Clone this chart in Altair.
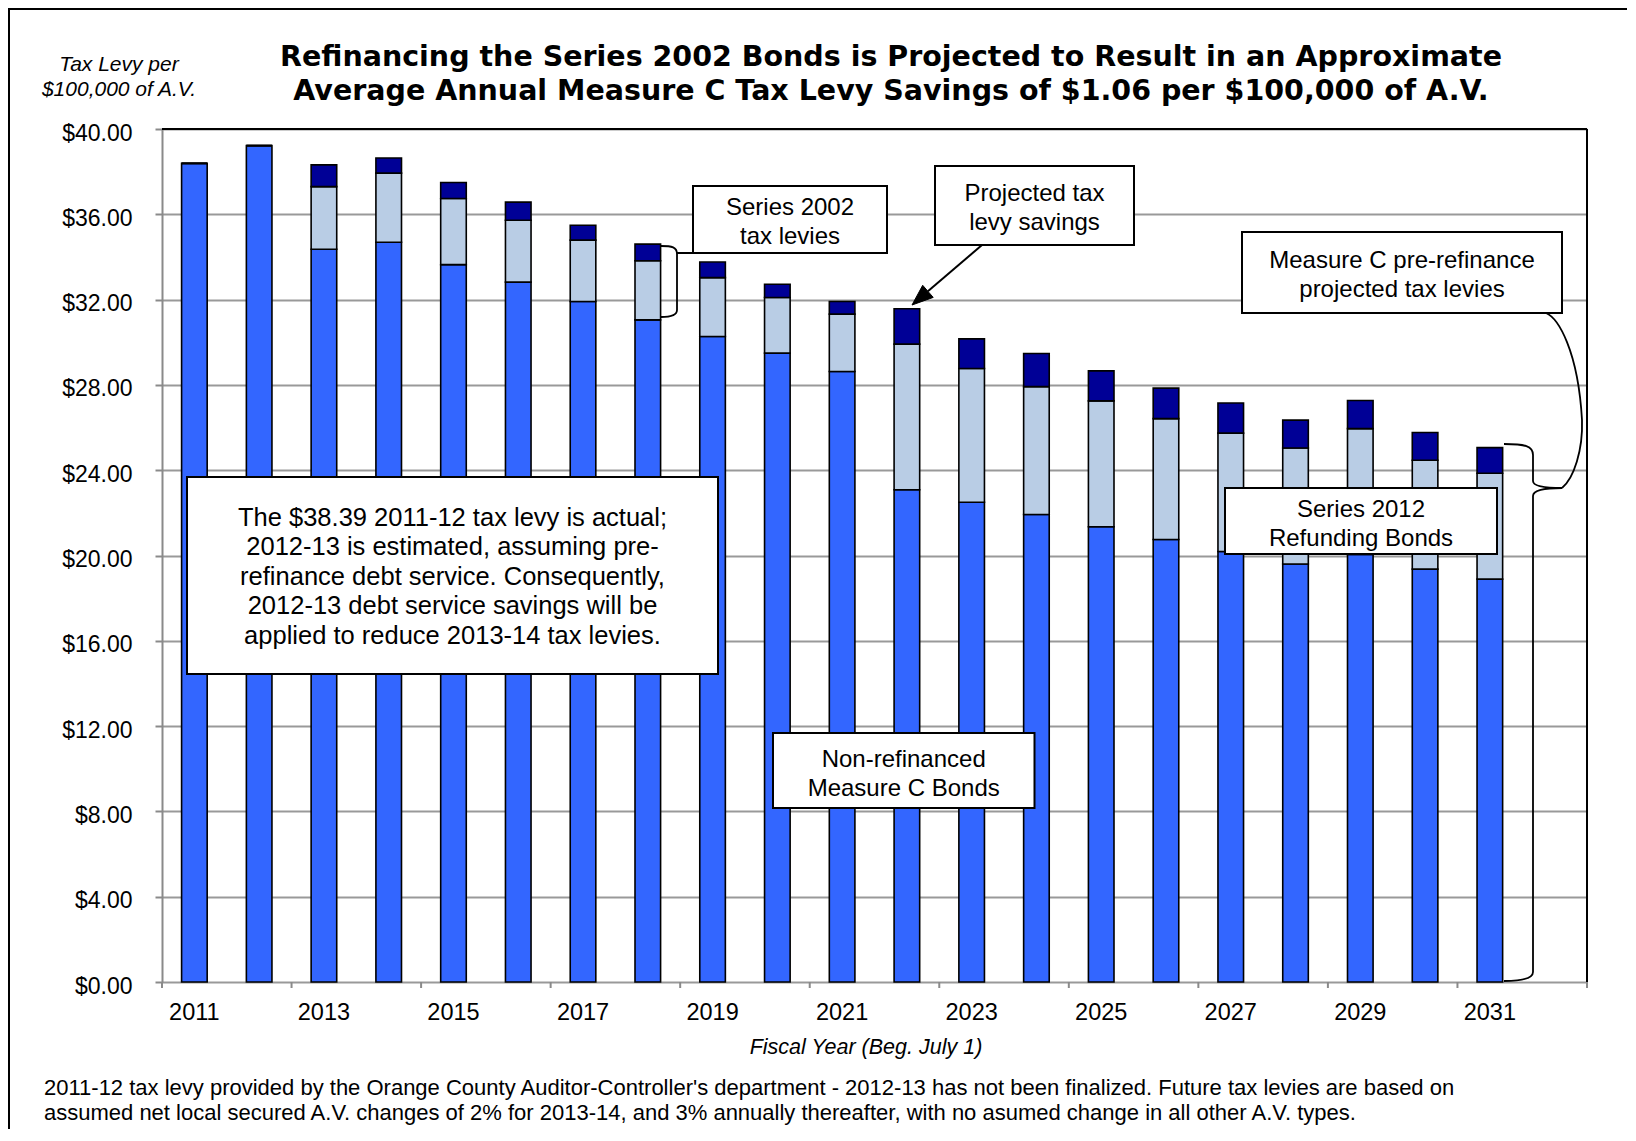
import altair as alt
import pandas as pd

# ---------------- data ----------------
years = list(range(2011, 2033))          # 2032 is the empty slot at the right
bar_years = list(range(2011, 2032))
label_years = list(range(2011, 2032, 2))
tick_years = list(range(2011, 2032, 2))

non_refinanced = [38.39, 39.22, 34.36, 34.69, 33.64, 32.82, 31.91, 31.05, 30.27, 29.49, 28.63,
                  23.08, 22.50, 21.92, 21.35, 20.75, 20.19, 19.60, 20.05, 19.36, 18.89]
series_bonds = [0.00, 0.00, 2.94, 3.24, 3.10, 2.90, 2.88, 2.77, 2.76, 2.61, 2.69,
                6.83, 6.27, 6.00, 5.90, 5.67, 5.55, 5.44, 5.90, 5.11, 4.97]
savings = [0.00, 0.00, 1.02, 0.71, 0.75, 0.85, 0.70, 0.78, 0.73, 0.62, 0.59,
           1.66, 1.39, 1.55, 1.41, 1.43, 1.41, 1.31, 1.32, 1.30, 1.20]

segments = ["Non-refinanced Measure C Bonds", "Series 2002 / Series 2012 levies", "Projected tax levy savings"]
seg_colors = ["#3366FF", "#B9CDE5", "#000096"]
y_ticks = list(range(0, 44, 4))

title_lines = ["Refinancing the Series 2002 Bonds is Projected to Result in an Approximate",
               "Average Annual Measure C Tax Levy Savings of $1.06 per $100,000 of A.V."]
y_title_lines = ["Tax Levy per", "$100,000 of A.V."]
x_title = "Fiscal Year (Beg. July 1)"
footnote_lines = [
    "2011-12 tax levy provided by the Orange County Auditor-Controller's department - 2012-13 has not been finalized. Future tax levies are based on",
    "assumed net local secured A.V. changes of 2% for 2013-14, and 3% annually thereafter, with no asumed change in all other A.V. types.",
]
note_lines = ["The $38.39 2011-12 tax levy is actual;", "2012-13 is estimated, assuming pre-",
              "refinance debt service. Consequently,", "2012-13 debt service savings will be",
              "applied to reduce 2013-14 tax levies."]
box_2002 = ["Series 2002", "tax levies"]
box_savings = ["Projected tax", "levy savings"]
box_pre = ["Measure C pre-refinance", "projected tax levies"]
box_2012 = ["Series 2012", "Refunding Bonds"]
box_nonref = ["Non-refinanced", "Measure C Bonds"]

rows = []
for i, yr in enumerate(bar_years):
    for k, (seg, vals) in enumerate(zip(segments, [non_refinanced, series_bonds, savings])):
        rows.append({"year": yr, "segment": seg, "value": vals[i], "order": k})
df = pd.DataFrame(rows)
labels_df = pd.DataFrame({"year": label_years, "label": [str(y) for y in label_years]})

# ---------------- layout ----------------
W, H = 1425, 853
OX, OY = 162, 129  # page position of plot origin
FONT = "Liberation Sans"


def vx(px):
    return px - OX


def vy(py):
    return py - OY


one = pd.DataFrame({"k": [0]})
xscale = alt.Scale(domain=years, paddingInner=0, paddingOuter=0)

bars = alt.Chart(df).mark_bar(stroke="black", strokeWidth=1.6, width=alt.RelativeBandSize(0.395)).encode(
    x=alt.X("year:O", scale=xscale,
            axis=alt.Axis(labels=False, ticks=False, tickSize=0, domainColor="#8a8a8a",
                          domainWidth=3, grid=False, title=None)),
    y=alt.Y("value:Q", stack="zero",
            scale=alt.Scale(domain=[0, 40], nice=False, zero=True),
            axis=alt.Axis(values=y_ticks, format="$.2f", tickSize=7, tickColor="#8a8a8a",
                          tickWidth=2, labelFontSize=23, labelPadding=23, labelOffset=4,
                          labelFont=FONT, labelColor="black", domainColor="#8a8a8a",
                          domainWidth=2, grid=True, gridColor="#999999", gridWidth=2,
                          title=None)),
    color=alt.Color("segment:N", scale=alt.Scale(domain=segments, range=seg_colors), legend=None),
    order=alt.Order("order:Q"),
)

x_labels = alt.Chart(labels_df).mark_text(font=FONT, fontSize=23.5, baseline="alphabetic",
                                          align="center", color="black").encode(
    x=alt.X("year:O", axis=None), y=alt.value(vy(1020)), text="label:N")

ticks = alt.Chart(pd.DataFrame({"year": tick_years})).mark_rule(color="#8a8a8a", strokeWidth=2).encode(
    x=alt.X("year:O", bandPosition=0, axis=None), y=alt.value(H), y2=alt.value(H + 6))
end_tick = alt.Chart(one).mark_rule(color="#8a8a8a", strokeWidth=2).encode(
    x=alt.value(W), y=alt.value(H), y2=alt.value(H + 6))

top_border = alt.Chart(one).mark_rule(color="black", strokeWidth=2).encode(
    x=alt.value(0), x2=alt.value(W), y=alt.value(0))
right_border = alt.Chart(one).mark_rule(color="black", strokeWidth=2).encode(
    x=alt.value(W), y=alt.value(0), y2=alt.value(H))

frame = alt.Chart(one).mark_rect(fillOpacity=0, stroke="black", strokeWidth=2).encode(
    x=alt.value(vx(9)), x2=alt.value(vx(1700)), y=alt.value(vy(9)), y2=alt.value(vy(1300)))


def text_layer(lines, cx, by, size, weight="normal", style="normal", align="center", lh=None, font=FONT):
    kw = dict(text=lines, font=font, fontSize=size, fontWeight=weight, fontStyle=style,
              align=align, baseline="alphabetic", color="black")
    if lh is not None:
        kw["lineHeight"] = lh
    return alt.Chart(one).mark_text(**kw).encode(x=alt.value(vx(cx)), y=alt.value(vy(by)))


def box_layer(x0, y0, x1, y1):
    return alt.Chart(one).mark_rect(fill="white", stroke="black", strokeWidth=2).encode(
        x=alt.value(vx(x0)), x2=alt.value(vx(x1)), y=alt.value(vy(y0)), y2=alt.value(vy(y1)))


def path_from_page(cmds):
    out = []
    for c in cmds:
        if isinstance(c, str):
            out.append(c)
        else:
            out.append(f"{vx(c[0]):.1f},{vy(c[1]):.1f}")
    return " ".join(out)


def path_layer(path, filled=False, width=1.8):
    if filled:
        m = alt.Chart(one).mark_point(shape=path, size=4, filled=True, fill="black",
                                      stroke="black", strokeWidth=1, opacity=1)
    else:
        m = alt.Chart(one).mark_point(shape=path, size=4, filled=False, stroke="black",
                                      strokeWidth=width, opacity=1)
    return m.encode(x=alt.value(0), y=alt.value(0))


# bracket for the 2018 bar -> "Series 2002 tax levies"
bracket_2002 = path_from_page(["M", (661, 246), "C", (672, 246), (677, 247), (677, 254),
                               "L", (677, 310), "C", (677, 315), (672, 317), (661, 317),
                               "M", (677, 253), "L", (693, 253)])
# curly brace for the 2031 bar -> "Measure C pre-refinance projected tax levies"
brace_2031 = path_from_page(["M", (1504, 444), "C", (1525, 444), (1533, 446), (1533, 455),
                             "L", (1533, 481), "C", (1533, 486), (1545, 488), (1562, 488),
                             "C", (1545, 488), (1533, 490), (1533, 496),
                             "L", (1533, 972), "C", (1533, 978), (1525, 981), (1504, 981)])
connector = path_from_page(["M", (1546, 313), "C", (1558, 318), (1578, 350), (1582, 420),
                            "C", (1583, 450), (1574, 478), (1562, 488)])

# arrow to the 2022 savings segment
ax0, ay0, ax1, ay1 = 982, 245, 912, 305
dx, dy = ax1 - ax0, ay1 - ay0
ln = (dx * dx + dy * dy) ** 0.5
ux, uy = dx / ln, dy / ln
hl, hw = 21, 8
bx, by = ax1 - hl * ux, ay1 - hl * uy
arrow_line = path_from_page(["M", (ax0, ay0), "L", (bx, by)])
arrow_head = path_from_page(["M", (ax1, ay1), "L", (bx - hw * uy, by + hw * ux),
                             "L", (bx + hw * uy, by - hw * ux), "Z"])

layers = [
    frame,
    bars,
    x_labels,
    ticks,
    end_tick,
    top_border,
    right_border,
    text_layer(title_lines, 891, 66, 28.5, weight="bold", lh=33.5, font="DejaVu Sans"),
    text_layer(y_title_lines, 119, 70.5, 21, style="italic", lh=25),
    text_layer([x_title], 866, 1054, 21.5, style="italic"),
    text_layer(footnote_lines, 44, 1095, 22, align="left", lh=25),
    path_layer(bracket_2002),
    path_layer(brace_2031),
    path_layer(connector),
    path_layer(arrow_line, width=2),
    path_layer(arrow_head, filled=True),
    box_layer(693, 186, 887, 253),
    text_layer(box_2002, 790, 215, 24, lh=29),
    box_layer(935, 166, 1134, 245),
    text_layer(box_savings, 1034.5, 201, 24, lh=29),
    box_layer(1242, 232, 1562, 313),
    text_layer(box_pre, 1402, 268, 24, lh=29),
    box_layer(187, 477, 718, 674),
    text_layer(note_lines, 452.5, 525.5, 25.5, lh=29.6),
    box_layer(773, 733, 1034.5, 808),
    text_layer(box_nonref, 903.7, 766.5, 24, lh=29.5),
    box_layer(1225, 488, 1497, 554),
    text_layer(box_2012, 1361, 516.5, 24, lh=29),
]

chart = alt.layer(*layers).properties(
    width=W, height=H,
    padding={"left": OX - 8, "top": OY - 8, "right": 40, "bottom": 147},
    autosize=alt.AutoSizeParams(type="none"),
    background="white",
).configure_view(stroke=None)

chart.save("out.html", embed_options={"renderer": "svg", "actions": False})
